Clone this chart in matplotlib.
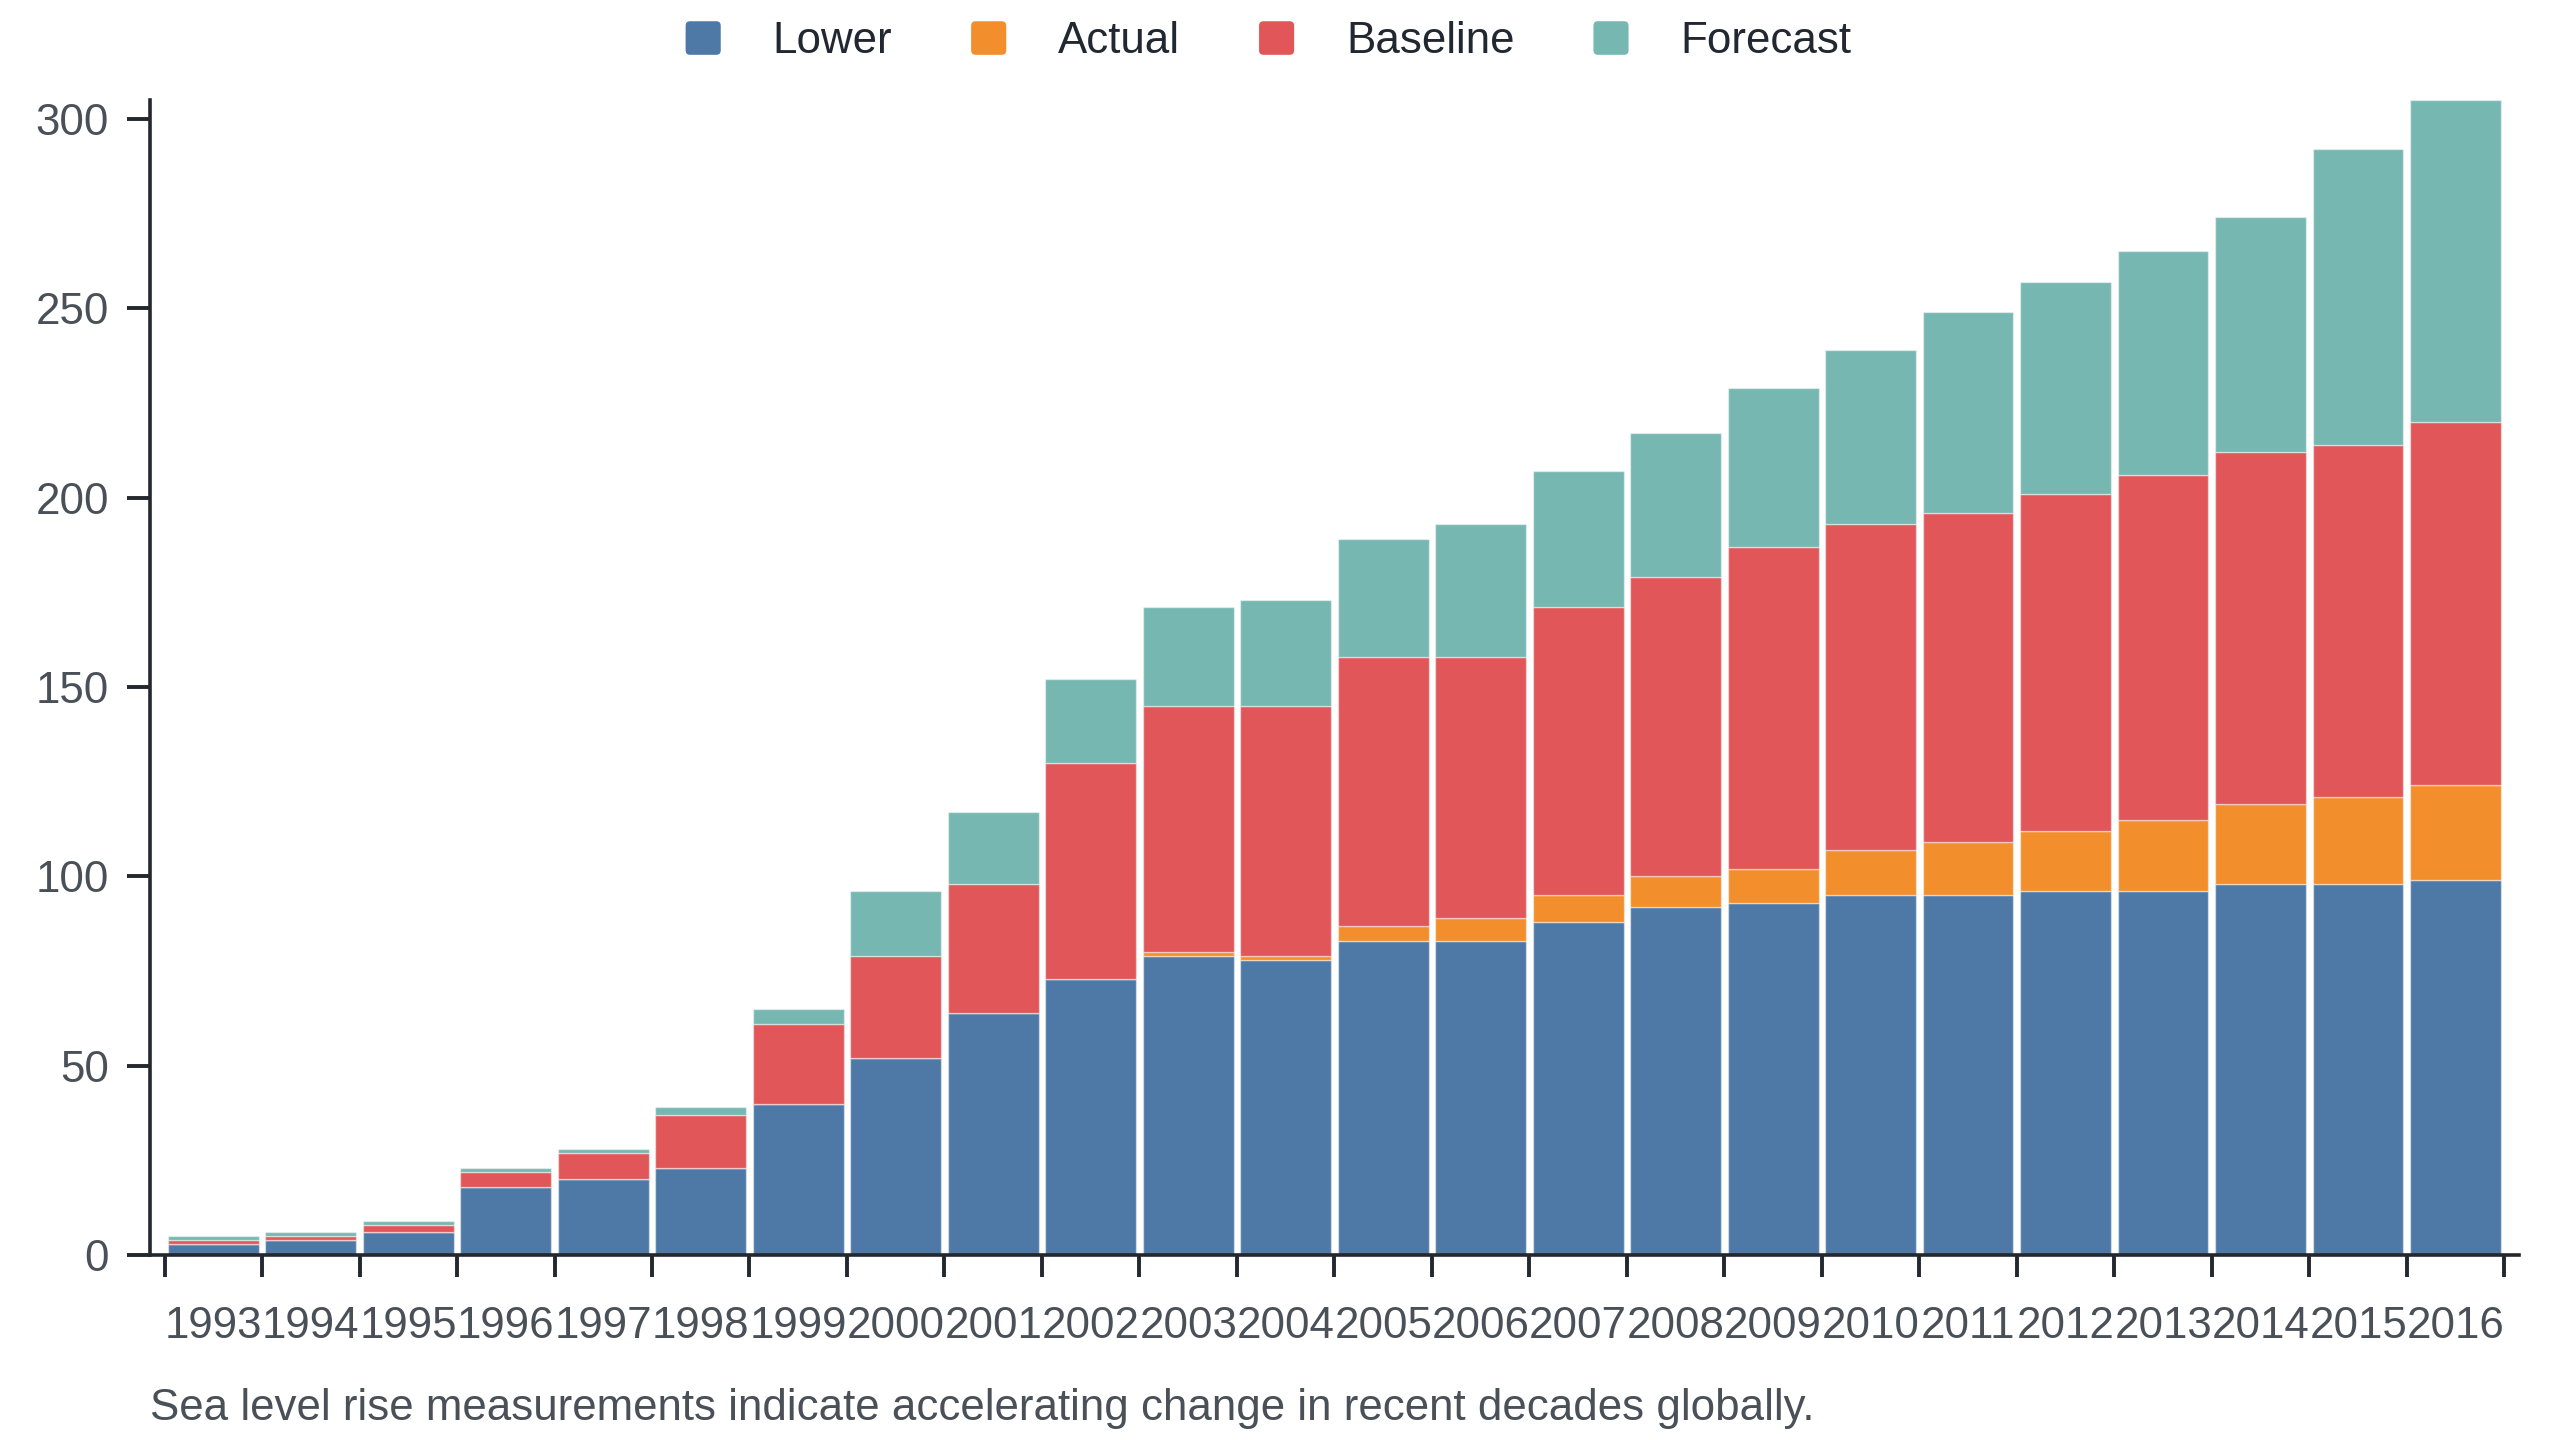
"""Stacked bar chart of sea level rise components, 1993-2016."""

import matplotlib

matplotlib.use("Agg")
import matplotlib.pyplot as plt
import numpy as np
from matplotlib.legend_handler import HandlerPatch
from matplotlib.patches import FancyBboxPatch, Patch

years = [str(y) for y in range(1993, 2017)]
lower = [3, 4, 6, 18, 20, 23, 40, 52, 64, 73, 79, 78, 83, 83, 88, 92, 93, 95, 95, 96, 96, 98, 98, 99]
actual = [0, 0, 0, 0, 0, 0, 0, 0, 0, 0, 1, 1, 4, 6, 7, 8, 9, 12, 14, 16, 19, 21, 23, 25]
baseline = [1, 1, 2, 4, 7, 14, 21, 27, 34, 57, 65, 66, 71, 69, 76, 79, 85, 86, 87, 89, 91, 93, 93, 96]
forecast = [1, 1, 1, 1, 1, 2, 4, 17, 19, 22, 26, 28, 31, 35, 36, 38, 42, 46, 53, 56, 59, 62, 78, 85]

series_names = ["Lower", "Actual", "Baseline", "Forecast"]
series_colors = ["#4e79a7", "#f28e2b", "#e15759", "#76b7b2"]
caption = "Sea level rise measurements indicate accelerating change in recent decades globally."

AXIS_COLOR = "#23272e"
TICK_TEXT = "#4a5058"
LEGEND_TEXT = "#222831"
FONT = 15.8

plt.rcParams["font.family"] = ["Liberation Sans", "DejaVu Sans"]


def rounded_square(legend, orig_handle, xdescent, ydescent, width, height, fontsize):
    return FancyBboxPatch(
        (-xdescent, -ydescent), width, height,
        boxstyle="round,pad=0,rounding_size=1.6",
    )


fig = plt.figure(figsize=(12.8, 7.2), dpi=200)
ax = fig.add_axes([150 / 2560, 1 - 1255 / 1440, (2519 - 150) / 2560, (1255 - 100) / 1440])

x = np.arange(len(years)) + 0.5
bottom = np.zeros(len(years))
for values, color in zip([lower, actual, baseline, forecast], series_colors):
    vals = np.array(values, dtype=float)
    ax.bar(x, vals, width=0.93, bottom=bottom, color=color,
           edgecolor=(1, 1, 1, 0.45), linewidth=0.5)
    bottom += vals

ax.set_xlim(-0.149, 24.15)
ax.set_ylim(0, bottom.max())

ax.set_xticks(np.arange(len(years) + 1))
ax.set_xticklabels([])
ax.set_xticks(x, minor=True)
ax.set_xticklabels(years, minor=True)
ax.tick_params(axis="x", which="major", length=8, width=1.4, color=AXIS_COLOR)
ax.tick_params(axis="x", which="minor", length=0, pad=18.5, labelsize=FONT, labelcolor=TICK_TEXT)

ax.set_yticks(np.arange(0, 301, 50))
ax.tick_params(axis="y", length=8.3, width=1.4, color=AXIS_COLOR, pad=6.5,
               labelsize=FONT, labelcolor=TICK_TEXT)

for side in ["top", "right"]:
    ax.spines[side].set_visible(False)
for side in ["left", "bottom"]:
    ax.spines[side].set_color(AXIS_COLOR)
    ax.spines[side].set_linewidth(1.3)

handles = [Patch(facecolor=c, edgecolor="none", label=n) for n, c in zip(series_names, series_colors)]
legend = fig.legend(
    handles=handles, loc="center", bbox_to_anchor=(0.4955, 0.971), ncol=4, frameon=False,
    fontsize=FONT, handlelength=0.8, handleheight=0.8, handletextpad=1.18,
    columnspacing=1.8, borderpad=0,
    handler_map={Patch: HandlerPatch(patch_func=rounded_square)},
)
for text in legend.get_texts():
    text.set_color(LEGEND_TEXT)

fig.text(150 / 2560, 1 - 1420 / 1440, caption, ha="left", va="baseline",
         fontsize=FONT, color=TICK_TEXT)

fig.savefig("out.png", dpi=200)
plt.close(fig)
